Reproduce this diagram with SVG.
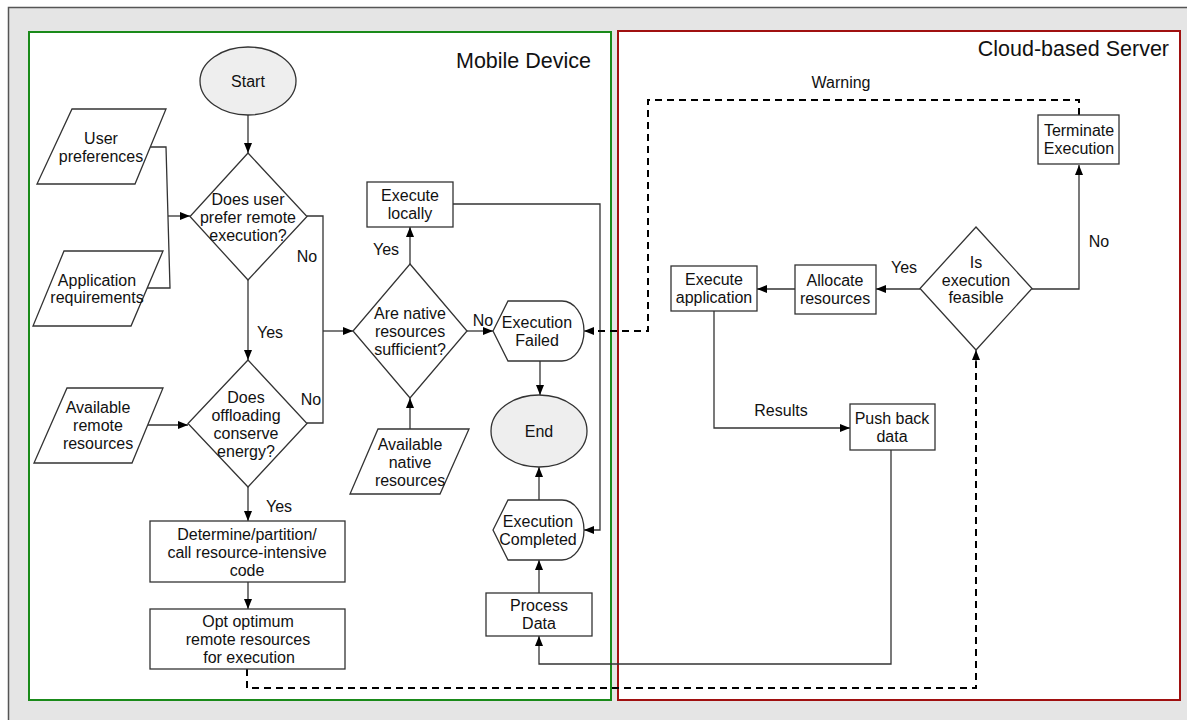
<svg xmlns="http://www.w3.org/2000/svg" width="1187" height="720" viewBox="0 0 1187 720">
<defs>
<marker id="ah" markerWidth="10" markerHeight="8" refX="10" refY="4" orient="auto" markerUnits="userSpaceOnUse">
<path d="M0,0 L10,4 L0,8 Z" fill="#000"/>
</marker>
<style>
.n{fill:#fff;stroke:#333;stroke-width:1.3}
.g{fill:#eeeeee;stroke:#333;stroke-width:1.3}
text{font-family:"Liberation Sans",Arial,sans-serif;font-size:16px;fill:#111;text-anchor:middle}
.c{fill:none;stroke:#333;stroke-width:1.3}
.d{fill:none;stroke:#000;stroke-width:2;stroke-dasharray:7,5}
.t{font-size:21.5px;text-anchor:end}
</style>
</defs>
<rect x="0" y="0" width="1187" height="720" fill="#fff"/>
<rect x="8.5" y="7.5" width="1200" height="730" fill="#e5e5e5" stroke="#555" stroke-width="1.5"/>
<g id="mobile-device">
<rect x="29" y="32" width="582" height="668" fill="#fff" stroke="#1a8a1a" stroke-width="2"/>
<text class="t" x="591" y="68">Mobile Device</text>
</g>
<g id="cloud-server">
<rect x="618" y="31" width="562" height="669" fill="#fff" stroke="#a01010" stroke-width="2"/>
<text class="t" x="1169" y="56">Cloud-based Server</text>
</g>
<g id="connectors">
<path class="c" d="M248,115 V153" marker-end="url(#ah)"/>
<path class="c" d="M150,147 H166 L170,288 H146"/>
<path class="c" d="M168,216 H190" marker-end="url(#ah)"/>
<path class="c" d="M307,216 H323 V423 H307"/>
<path class="c" d="M323,331 H353" marker-end="url(#ah)"/>
<path class="c" d="M248,280 V360" marker-end="url(#ah)"/>
<path class="c" d="M148,425 H188" marker-end="url(#ah)"/>
<path class="c" d="M248,487 V521" marker-end="url(#ah)"/>
<path class="c" d="M248,582 V609" marker-end="url(#ah)"/>
<path class="c" d="M410,264 V227" marker-end="url(#ah)"/>
<path class="c" d="M410,429 V398" stroke-width="2" marker-end="url(#ah)"/>
<path class="c" d="M467,331 H493" marker-end="url(#ah)"/>
<path class="c" d="M453,204 H600 V530 H584" marker-end="url(#ah)"/>
<path class="c" d="M540,361 V395" marker-end="url(#ah)"/>
<path class="c" d="M539,500 V467" marker-end="url(#ah)"/>
<path class="c" d="M539,593 V560" marker-end="url(#ah)"/>
<path class="c" d="M891,450 V664 H539 V636" marker-end="url(#ah)"/>
<path class="c" d="M1032,289 H1079 V165" marker-end="url(#ah)"/>
<path class="c" d="M920,289 H876" marker-end="url(#ah)"/>
<path class="c" d="M795,289 H757" marker-end="url(#ah)"/>
<path class="c" d="M714,311 V428 H850" marker-end="url(#ah)"/>
<path class="d" d="M1079,115 V100 H648 V331 H586"/>
<path class="c" d="M594,331 H584" marker-end="url(#ah)"/>
<path class="d" d="M247,669 V688 H976 V360"/>
<path class="c" d="M976,362 V350" marker-end="url(#ah)"/>
<text x="307" y="262">No</text>
<text x="270" y="338">Yes</text>
<text x="311" y="405">No</text>
<text x="279" y="512">Yes</text>
<text x="386" y="255">Yes</text>
<text x="483" y="326">No</text>
<text x="841" y="88">Warning</text>
<text x="1099" y="247">No</text>
<text x="904" y="273">Yes</text>
<text x="781" y="416">Results</text>
</g>
<g id="start"><ellipse class="g" cx="248" cy="81" rx="48" ry="34"/><text x="248" y="87">Start</text></g>
<g id="user-preferences"><path class="n" d="M72,109 H166 L135,184 H37 Z"/><text x="101" y="144">User</text><text x="101" y="162">preferences</text></g>
<g id="app-requirements"><path class="n" d="M64,251 H163 L131,326 H33 Z"/><text x="97" y="286">Application</text><text x="97" y="303">requirements</text></g>
<g id="d-prefer-remote"><path class="n" d="M248,153 L307,216.5 L248,280 L190,216.5 Z"/><text x="248" y="205">Does user</text><text x="248" y="223">prefer remote</text><text x="248" y="241">execution?</text></g>
<g id="available-remote"><path class="n" d="M67,388 H163 L132,463 H34 Z"/><text x="98" y="413">Available</text><text x="98" y="431">remote</text><text x="98" y="449">resources</text></g>
<g id="d-offloading"><path class="n" d="M248,360 L307,423.5 L248,487 L188,423.5 Z"/><text x="246" y="403">Does</text><text x="246" y="421">offloading</text><text x="246" y="439">conserve</text><text x="246" y="457">energy?</text></g>
<g id="determine"><rect class="n" x="150" y="521" width="195" height="61"/><text x="247" y="540">Determine/partition/</text><text x="247" y="558">call resource-intensive</text><text x="247" y="576">code</text></g>
<g id="opt-optimum"><rect class="n" x="150" y="609" width="195" height="60"/><text x="248" y="627">Opt optimum</text><text x="248" y="645">remote resources</text><text x="249" y="663">for execution</text></g>
<g id="execute-locally"><rect class="n" x="367" y="182" width="86" height="45"/><text x="410" y="201">Execute</text><text x="410" y="219">locally</text></g>
<g id="d-native"><path class="n" d="M410,264 L467,331 L410,398 L353,331 Z"/><text x="410" y="319">Are native</text><text x="410" y="337">resources</text><text x="410" y="355">sufficient?</text></g>
<g id="available-native"><path class="n" d="M378,429 H469 L440,494 H350 Z"/><text x="410" y="450">Available</text><text x="410" y="468">native</text><text x="410" y="486">resources</text></g>
<g id="execution-failed"><path class="n" d="M493,331 L508,301 H562 A22,30 0 0 1 562,361 H508 Z"/><text x="537" y="328">Execution</text><text x="537" y="346">Failed</text></g>
<g id="end"><ellipse class="g" cx="539" cy="431" rx="48" ry="36"/><text x="539" y="437">End</text></g>
<g id="execution-completed"><path class="n" d="M493,530 L508,500 H562 A22,30 0 0 1 562,560 H508 Z"/><text x="538" y="527">Execution</text><text x="538" y="545">Completed</text></g>
<g id="process-data"><rect class="n" x="486" y="593" width="106" height="43"/><text x="539" y="611">Process</text><text x="539" y="629">Data</text></g>
<g id="terminate"><rect class="n" x="1038" y="115" width="81" height="49"/><text x="1079" y="136">Terminate</text><text x="1079" y="154">Execution</text></g>
<g id="d-feasible"><path class="n" d="M976,227 L1032,288.5 L976,350 L920,288.5 Z"/><text x="976" y="268">Is</text><text x="976" y="286">execution</text><text x="976" y="303">feasible</text></g>
<g id="allocate"><rect class="n" x="795" y="265" width="81" height="49"/><text x="835" y="286">Allocate</text><text x="835" y="304">resources</text></g>
<g id="execute-app"><rect class="n" x="671" y="266" width="86" height="45"/><text x="714" y="285">Execute</text><text x="714" y="303">application</text></g>
<g id="push-back"><rect class="n" x="850" y="404" width="85" height="46"/><text x="892" y="424">Push back</text><text x="892" y="442">data</text></g>
</svg>
